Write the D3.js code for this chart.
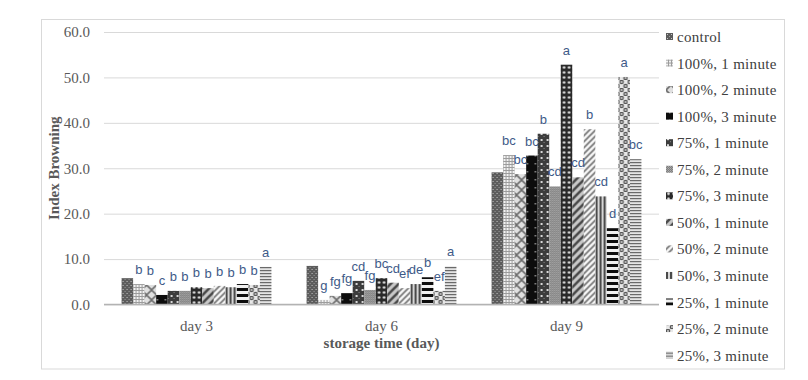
<!DOCTYPE html>
<html>
<head>
<meta charset="utf-8">
<script src="https://cdn.jsdelivr.net/npm/d3@7"></script>
<style>
  body { margin: 0; background: #fff; }
  svg { display: block; }
</style>
</head>
<body>
<svg id="chart"></svg>
<script>
// data
const categories = ["day 3", "day 6", "day 9"]
const seriesNames = [
	"control",
	"100%, 1 minute", "100%, 2 minute", "100%, 3 minute",
	"75%, 1 minute", "75%, 2 minute", "75%, 3 minute",
	"50%, 1 minute", "50%, 2 minute", "50%, 3 minute",
	"25%, 1 minute", "25%, 2 minute", "25%, 3 minute",
]
const day3Values = [5.8, 4.5, 4.3, 2.1, 3.0, 3.0, 3.8, 3.6, 4.1, 3.8, 4.5, 4.3, 8.3]
const day6Values = [8.5, 1.0, 1.9, 2.5, 5.2, 3.2, 5.8, 4.8, 3.6, 4.5, 6.0, 3.0, 8.4]
const day9Values = [29.1, 32.9, 28.7, 32.8, 37.6, 26.0, 52.8, 28.0, 38.6, 23.8, 16.8, 50.1, 32.0]
const day3Letters = ["", "b", "b", "c", "b", "b", "b", "b", "b", "b", "b", "b", "a"]
const day6Letters = ["", "g", "fg", "fg", "cd", "fg", "bc", "cd", "ef", "de", "b", "ef", "a"]
const day9Letters = ["", "bc", "bc", "bc", "b", "cd", "a", "cd", "b", "cd", "d", "a", "bc"]
const yTicks = [0, 10, 20, 30, 40, 50, 60]

const dataset = categories.map((c, i) => ({
	cat: c,
	values: [day3Values, day6Values, day9Values][i],
	letters: [day3Letters, day6Letters, day9Letters][i],
}))

const width = 808
const height = 380
const margin = { top: 32, bottom: 75.5, left: 104, right: 149 }

const svg = d3.select("#chart").attr("width", width).attr("height", height)

// patterns, one per series (grey excel-like fills)
const defs = svg.append("defs")
const pat = (id, w, h, bg) => {
	const p = defs.append("pattern")
		.attr("id", id)
		.attr("patternUnits", "userSpaceOnUse")
		.attr("width", w)
		.attr("height", h)
	p.append("rect").attr("width", w).attr("height", h).attr("fill", bg)
	return p
}
let p
// control
p = pat("p0", 4, 4, "#5c5c5c")
p.append("rect").attr("x", 1).attr("y", 1).attr("width", 1).attr("height", 1).attr("fill", "#c8c8c8")
p.append("rect").attr("x", 3).attr("y", 3).attr("width", 1).attr("height", 1).attr("fill", "#9a9a9a")
// 100% 1
p = pat("p1", 3, 3, "#9c9c9c")
p.append("rect").attr("width", 2).attr("height", 2).attr("fill", "#f2f2f2")
// 100% 2
p = pat("p2", 10, 10, "#e0e0e0")
p.append("path").attr("d", "M0,0L10,10M10,0L0,10").attr("stroke", "#6e6e6e").attr("stroke-width", 1.6)
// 100% 3
p = pat("p3", 8, 8, "#0d0d0d")
p.append("rect").attr("x", 3).attr("y", 3).attr("width", 1.5).attr("height", 1.5).attr("fill", "#9a9a9a")
// 75% 1
p = pat("p4", 6, 6, "#3c3c3c")
p.append("rect").attr("x", 1).attr("y", 1).attr("width", 2).attr("height", 2).attr("fill", "#d8d8d8")
p.append("rect").attr("x", 4).attr("y", 4).attr("width", 1).attr("height", 1).attr("fill", "#888")
// 75% 2
p = pat("p5", 2, 2, "#6a6a6a")
p.append("rect").attr("width", 1).attr("height", 1).attr("fill", "#c4c4c4")
p.append("rect").attr("x", 1).attr("y", 1).attr("width", 1).attr("height", 1).attr("fill", "#b0b0b0")
// 75% 3
p = pat("p6", 5, 5, "#2a2a2a")
p.append("circle").attr("cx", 2.5).attr("cy", 2.5).attr("r", 1.3).attr("fill", "#e6e6e6")
// 50% 1
p = pat("p7", 8, 8, "#c8c8c8")
p.append("path").attr("d", "M-2,10L10,-2M-2,2L2,-2M6,10L10,6").attr("stroke", "#4a4a4a").attr("stroke-width", 2.6)
// 50% 2
p = pat("p8", 6, 6, "#f5f5f5")
p.append("path").attr("d", "M-1.5,7.5L7.5,-1.5M-1.5,1.5L1.5,-1.5M4.5,7.5L7.5,4.5").attr("stroke", "#7a7a7a").attr("stroke-width", 1.7)
// 50% 3
p = pat("p9", 4, 4, "#d6d6d6")
p.append("rect").attr("width", 2).attr("height", 4).attr("fill", "#4a4a4a")
// 25% 1
p = pat("p10", 6, 6, "#f0f0f0")
p.append("rect").attr("width", 6).attr("height", 3).attr("fill", "#0d0d0d")
// 25% 2
p = pat("p11", 8, 8, "#e8e8e8")
p.append("circle").attr("cx", 2).attr("cy", 2).attr("r", 2.3).attr("fill", "#555")
p.append("circle").attr("cx", 6).attr("cy", 6).attr("r", 2.3).attr("fill", "#555")
p.append("circle").attr("cx", 2).attr("cy", 2).attr("r", 0.9).attr("fill", "#ddd")
p.append("circle").attr("cx", 6).attr("cy", 6).attr("r", 0.9).attr("fill", "#ddd")
// 25% 3
p = pat("p12", 3, 3, "#e4e4e4")
p.append("rect").attr("width", 3).attr("height", 1.2).attr("fill", "#6a6a6a")

const fillOf = (i) => `url(#p${i})`

// outer frame
svg.append("rect")
	.attr("x", 41.5).attr("y", 19.5)
	.attr("width", 743).attr("height", 349.5)
	.attr("fill", "none")
	.attr("stroke", "#d9d9d9")

// scales
const scale = {
	x0: d3.scaleBand()
		.domain(categories)
		.range([margin.left, width - margin.right])
		.paddingInner(0.19)
		.paddingOuter(0.095),
	x1: d3.scaleBand().domain(d3.range(seriesNames.length)),
	y: d3.scaleLinear().domain([0, 60]).range([304.5, margin.top]),
}
scale.x1.range([0, scale.x0.bandwidth()])

// grid + y ticks
const yAxis = svg.append("g")
	.attr("class", "y-axis")
	.attr("transform", `translate(${margin.left}, 0)`)
	.call(d3.axisLeft(scale.y).tickValues(yTicks).tickFormat(d3.format(".1f")).tickSize(-(width - margin.right - margin.left)).tickPadding(14))
yAxis.select(".domain").remove()
yAxis.selectAll(".tick line").attr("stroke", "#d9d9d9")
yAxis.selectAll(".tick text")
	.attr("fill", "#595959")
	.style("font-family", "'Liberation Serif', 'Times New Roman', serif")
	.style("font-size", "15px")

// bars
const groups = svg.selectAll(".grp")
	.data(dataset)
	.join("g")
	.attr("class", "grp")
	.attr("transform", (d) => `translate(${scale.x0(d.cat)}, 0)`)

groups.selectAll("rect")
	.data((d) => d.values)
	.join("rect")
	.attr("x", (d, i) => scale.x1(i))
	.attr("y", (d) => scale.y(d))
	.attr("width", scale.x1.bandwidth())
	.attr("height", (d) => scale.y(0) - scale.y(d))
	.attr("fill", (d, i) => fillOf(i))

groups.selectAll("text")
	.data((d) => d.letters.map((l, i) => ({ l, v: d.values[i], i })))
	.join("text")
	.attr("x", (d) => scale.x1(d.i) + scale.x1.bandwidth() / 2)
	.attr("y", (d) => scale.y(d.v) - 10)
	.attr("text-anchor", "middle")
	.attr("fill", "#3e5a88")
	.style("font-family", "'Liberation Sans', Arial, sans-serif")
	.style("font-size", "13px")
	.text((d) => d.l)

// baseline
svg.append("line")
	.attr("x1", margin.left).attr("x2", width - margin.right)
	.attr("y1", scale.y(0)).attr("y2", scale.y(0))
	.attr("stroke", "#b3b3b3")
	.attr("stroke-width", 1.5)

// x axis labels
const xAxis = svg.append("g")
	.attr("class", "x-axis")
	.attr("transform", `translate(0, ${scale.y(0)})`)
	.call(d3.axisBottom(scale.x0).tickSize(0).tickPadding(16))
xAxis.select(".domain").remove()
xAxis.selectAll(".tick text")
	.attr("fill", "#595959")
	.style("font-family", "'Liberation Serif', 'Times New Roman', serif")
	.style("font-size", "15px")

// axis titles
svg.append("text")
	.attr("x", (margin.left + width - margin.right) / 2)
	.attr("y", 348)
	.attr("text-anchor", "middle")
	.attr("fill", "#595959")
	.style("font-family", "'Liberation Serif', 'Times New Roman', serif")
	.style("font-size", "15px")
	.style("font-weight", "bold")
	.text("storage time (day)")

svg.append("text")
	.attr("transform", `translate(59, ${(scale.y(0) + scale.y(60)) / 2}) rotate(-90)`)
	.attr("text-anchor", "middle")
	.attr("fill", "#595959")
	.style("font-family", "'Liberation Serif', 'Times New Roman', serif")
	.style("font-size", "15px")
	.style("font-weight", "bold")
	.text("Index Browning")

// legend
const legend = svg.append("g")
	.attr("class", "legend")
	.attr("transform", "translate(666, 37)")
const item = legend.selectAll("g")
	.data(seriesNames)
	.join("g")
	.attr("transform", (d, i) => `translate(0, ${i * 26.55})`)
item.append("rect")
	.attr("x", 0).attr("y", -4)
	.attr("width", 7).attr("height", 7)
	.attr("fill", (d, i) => fillOf(i))
item.append("text")
	.attr("x", 11)
	.attr("y", 5)
	.attr("fill", "#404040")
	.style("font-family", "'Liberation Serif', 'Times New Roman', serif")
	.style("font-size", "15px")
	.style("letter-spacing", "0.3px")
	.text((d) => d)
</script>
</body>
</html>
